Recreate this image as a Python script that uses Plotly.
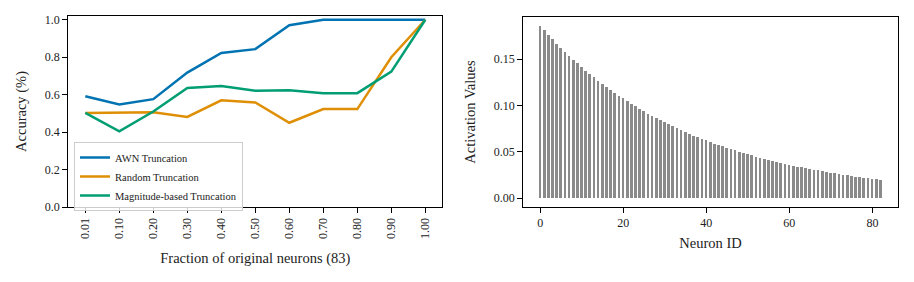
import plotly.graph_objects as go

# ---- Left panel data ----
fractions = ["0.01", "0.10", "0.20", "0.30", "0.40", "0.50", "0.60", "0.70", "0.80", "0.90", "1.00"]
awn_acc = [0.591, 0.547, 0.576, 0.718, 0.823, 0.843, 0.971, 1.0, 1.0, 1.0, 1.0]
random_acc = [0.502, 0.502, 0.506, 0.481, 0.570, 0.558, 0.450, 0.523, 0.523, 0.800, 1.0]
magnitude_acc = [0.503, 0.404, 0.510, 0.636, 0.646, 0.621, 0.624, 0.608, 0.608, 0.723, 1.0]
series_names = ["AWN Truncation", "Random Truncation", "Magnitude-based Truncation"]
series_colors = ["#0173b2", "#de8f05", "#029e73"]

# ---- Right panel data (max activation per neuron) ----
neuron_ids = list(range(83))
activation_max = [
    0.1860, 0.1810, 0.1760, 0.1713, 0.1666, 0.1621, 0.1577, 0.1534, 0.1493, 0.1452,
    0.1413, 0.1374, 0.1337, 0.1301, 0.1266, 0.1231, 0.1198, 0.1165, 0.1134, 0.1103,
    0.1073, 0.1044, 0.1016, 0.0988, 0.0961, 0.0935, 0.0910, 0.0885, 0.0861, 0.0838,
    0.0815, 0.0793, 0.0771, 0.0751, 0.0730, 0.0710, 0.0691, 0.0672, 0.0654, 0.0636,
    0.0619, 0.0602, 0.0586, 0.0570, 0.0555, 0.0540, 0.0525, 0.0511, 0.0497, 0.0483,
    0.0470, 0.0457, 0.0445, 0.0433, 0.0421, 0.0410, 0.0399, 0.0388, 0.0377, 0.0367,
    0.0357, 0.0348, 0.0338, 0.0329, 0.0320, 0.0311, 0.0303, 0.0295, 0.0287, 0.0279,
    0.0271, 0.0264, 0.0257, 0.0250, 0.0243, 0.0237, 0.0230, 0.0224, 0.0218, 0.0212,
    0.0206, 0.0201, 0.0195,
]

FONT = "Liberation Serif"
W, H = 906, 274   # page body margin of 8px offsets the figure
OFF = 8


def px_x(a, b):
    return [(a - OFF) / W, (b - OFF) / W]


def px_y(top, bottom):
    return [1 - (bottom - OFF) / H, 1 - (top - OFF) / H]


fig = go.Figure()
for name, vals, col in zip(series_names, [awn_acc, random_acc, magnitude_acc], series_colors):
    fig.add_trace(go.Scatter(x=fractions, y=vals, mode="lines", name=name,
                             line=dict(color=col, width=2.5), xaxis="x", yaxis="y"))

fig.add_trace(go.Bar(x=neuron_ids, y=activation_max, width=0.65, marker=dict(color="#8a8a8a", line=dict(width=0)),
                     showlegend=False, xaxis="x2", yaxis="y2"))

axis_common = dict(showline=True, mirror=True, linecolor="black", linewidth=1.3, showgrid=False,
                   zeroline=False, ticks="outside", ticklen=5, tickwidth=1, tickcolor="black",
                   automargin=False,
                   tickfont=dict(family=FONT, size=12, color="#222"))

fig.update_layout(
    template="none",
    width=W, height=H, margin=dict(l=0, r=0, t=0, b=0, pad=0),
    paper_bgcolor="white", plot_bgcolor="white",
    font=dict(family=FONT, color="#222"),
    bargap=0,
    xaxis=dict(domain=px_x(68.3, 442.3), type="category", range=[-0.5, 10.5], tickangle=-90,
               title=dict(text="Fraction of original neurons (83)", font=dict(family=FONT, size=14.5), standoff=14),
               anchor="y", **axis_common),
    yaxis=dict(domain=px_y(16, 207), range=[0, 1.02], tickvals=[0, 0.2, 0.4, 0.6, 0.8, 1.0],
               tickformat=".1f", title=dict(text="Accuracy (%)", font=dict(family=FONT, size=14.5), standoff=14),
               anchor="x", **axis_common),
    xaxis2=dict(domain=px_x(523.3, 897.7), range=[-4.1, 86.1], tickvals=[0, 20, 40, 60, 80],
                title=dict(text="Neuron ID", font=dict(family=FONT, size=14.5), standoff=8),
                anchor="y2", **axis_common),
    yaxis2=dict(domain=px_y(17.3, 206.7), range=[-0.0093, 0.1953], tickvals=[0, 0.05, 0.10, 0.15],
                tickformat=".2f", title=dict(text="Activation Values", font=dict(family=FONT, size=14.5), standoff=14),
                anchor="x2", **axis_common),
    legend=dict(x=(74 - OFF) / W, y=1 - (142 - OFF) / H, xanchor="left", yanchor="top",
                bgcolor="rgba(255,255,255,0.8)", bordercolor="#cccccc", borderwidth=1,
                font=dict(family=FONT, size=10.5, color="#222"), itemwidth=30, tracegroupgap=0),
)

fig.write_html("out.html")
